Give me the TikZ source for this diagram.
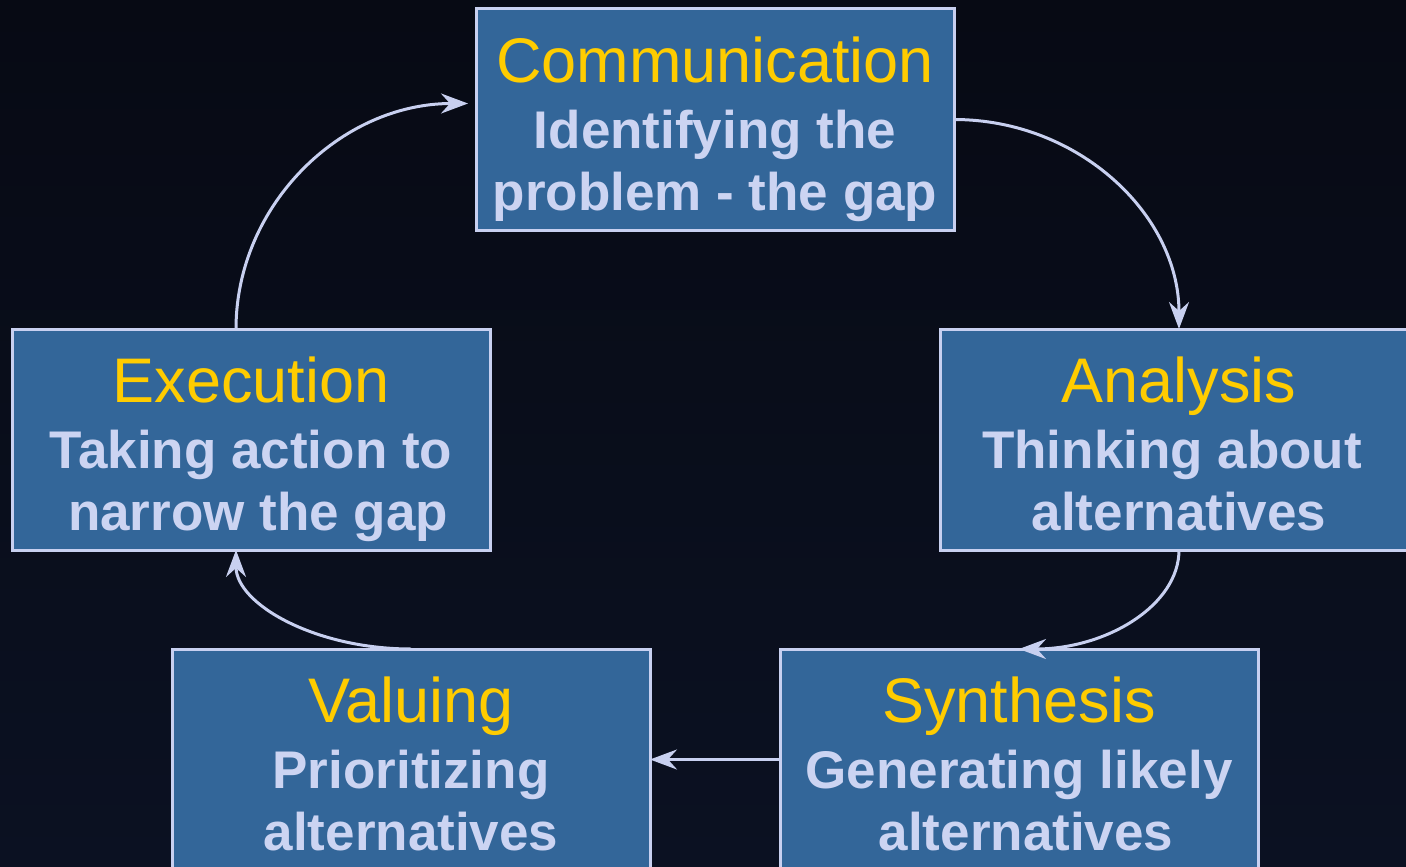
\documentclass[tikz,border=0pt]{standalone}
\usepackage{fontspec}
\setmainfont{Liberation Sans}
\usetikzlibrary{arrows.meta,calc}

\definecolor{bgtop}{HTML}{070A14}
\definecolor{bgbot}{HTML}{0B1122}
\definecolor{boxfill}{HTML}{336699}
\definecolor{boxline}{HTML}{C8D0F0}
\definecolor{titlecol}{HTML}{FFCC00}
\definecolor{subcol}{HTML}{CCD4F2}

\tikzset{
  stagebox/.style={draw=boxline, line width=3pt, fill=boxfill, outer sep=0pt,
    minimum width=478pt, minimum height=221pt, inner sep=0pt},
  stagetitle/.style={anchor=base, text=titlecol, inner sep=0pt,
    font=\fontsize{63}{70}\selectfont},
  stagesub/.style={anchor=base, text=subcol, inner sep=0pt,
    font=\fontsize{53}{62}\selectfont\bfseries},
  flow/.style={draw=boxline, line width=3pt,
    -{Stealth[length=27pt,width=20pt,inset=9pt]}},
}

% #1 name, #2 centre x, #3 top y, #4 title, #5 first line, #6 second line,
% #7/#8 horizontal nudge of the first/second line
\newcommand\stagenode[8]{%
  \node[stagebox] (#1) at (#2,#3+110.5) {};
  \node[stagetitle] (#1-t) at ($(#1.north)+(0,73)$) {#4};
  \node[stagesub] (#1-a) at ($(#1.north)+(#7,139)$) {#5};
  \node[stagesub] (#1-b) at ($(#1.north)+(#8,201)$) {#6};
}

\begin{document}
\begin{tikzpicture}[x=1pt,y=-1pt]
  \useasboundingbox (0,0) rectangle (1406,867);
  \clip (0,0) rectangle (1406,867);
  \shade[top color=bgtop, bottom color=bgbot] (0,0) rectangle (1406,867);

  \stagenode{comm}{715}{9}{Communication}{Identifying the}{problem - the gap}{0}{0}
  \stagenode{ana}{1179}{329}{Analysis}{Thinking about}{alternatives}{-7}{0}
  \stagenode{exec}{251}{329}{Execution}{Taking action to}{narrow the gap}{0}{7}
  \stagenode{val}{411}{649}{Valuing}{Prioritizing}{alternatives}{0}{0}
  \stagenode{syn}{1019}{649}{Synthesis}{Generating likely}{alternatives}{0}{7}

  % cycle connectors
  \coordinate (execTop) at ($(exec.north)+(-15,0)$);
  \coordinate (execBot) at ($(exec.south)+(-15,0)$);
  \coordinate (commIn) at ($(comm.west)+(-8,-16)$);

  \draw[flow] (comm.east) .. controls +(125,0) and +(0,-114) .. (ana.north);
  \draw[flow] (ana.south) .. controls +(0,55) and +(88,0) .. (syn.north);
  \draw[flow] (syn.west) -- (val.east);
  \draw[flow] (val.north) .. controls +(-96,0) and +(0,54) .. (execBot);
  \draw[flow] (execTop) .. controls +(0,-124) and +(-127,0) .. (commIn);
\end{tikzpicture}
\end{document}
